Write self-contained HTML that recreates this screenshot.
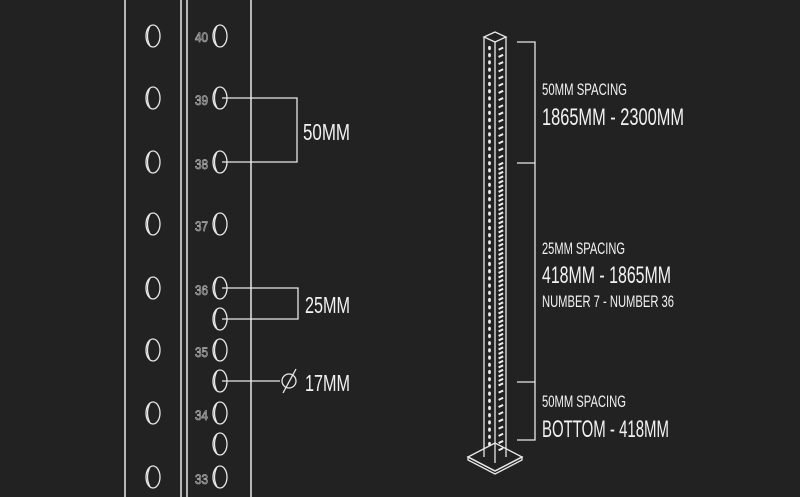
<!DOCTYPE html>
<html><head><meta charset="utf-8"><style>
html,body{margin:0;padding:0;background:#222222;}
svg{display:block}
text{font-family:"Liberation Sans Narrow","Liberation Sans",sans-serif;fill:#f2f2f2}
</style></head><body>
<svg id="s" width="800" height="497" viewBox="0 0 800 497" xmlns="http://www.w3.org/2000/svg">
<rect width="800" height="497" fill="#222222"/>
<g stroke="#e8e8e8" stroke-width="1.5" fill="none">
<line x1="125" y1="0" x2="125" y2="497"/>
<line x1="181" y1="0" x2="181" y2="497"/>
<line x1="187" y1="0" x2="187" y2="497"/>
<line x1="251" y1="0" x2="251" y2="497"/>
</g>
<g id="holes" stroke="#e8e8e8" stroke-width="1.3" fill="none"></g>
<g font-size="14">
<text x="195" y="42" textLength="13" lengthAdjust="spacingAndGlyphs" style="fill:#222;stroke:#aaa;stroke-width:0.8">40</text>
<text x="195" y="105" textLength="13" lengthAdjust="spacingAndGlyphs" style="fill:#222;stroke:#aaa;stroke-width:0.8">39</text>
<text x="195" y="169" textLength="13" lengthAdjust="spacingAndGlyphs" style="fill:#222;stroke:#aaa;stroke-width:0.8">38</text>
<text x="195" y="231" textLength="13" lengthAdjust="spacingAndGlyphs" style="fill:#222;stroke:#aaa;stroke-width:0.8">37</text>
<text x="195" y="295" textLength="13" lengthAdjust="spacingAndGlyphs" style="fill:#222;stroke:#aaa;stroke-width:0.8">36</text>
<text x="195" y="357" textLength="13" lengthAdjust="spacingAndGlyphs" style="fill:#222;stroke:#aaa;stroke-width:0.8">35</text>
<text x="195" y="420" textLength="13" lengthAdjust="spacingAndGlyphs" style="fill:#222;stroke:#aaa;stroke-width:0.8">34</text>
<text x="195" y="484" textLength="13" lengthAdjust="spacingAndGlyphs" style="fill:#222;stroke:#aaa;stroke-width:0.8">33</text>
</g>
<g stroke="#e8e8e8" stroke-width="1.3" fill="none">
<polyline points="222,98 297,98 297,162 222,162"/>
<polyline points="222,288 298,288 298,319 222,319"/>
<line x1="222" y1="381" x2="280" y2="381"/>
<circle cx="289" cy="381" r="7"/>
<line x1="283" y1="393" x2="296" y2="369"/>
</g>
<text x="303" y="140" font-size="23" textLength="47" lengthAdjust="spacingAndGlyphs">50MM</text>
<text x="305" y="313" font-size="23" textLength="45" lengthAdjust="spacingAndGlyphs">25MM</text>
<text x="305" y="391" font-size="23" textLength="45" lengthAdjust="spacingAndGlyphs">17MM</text>

<g stroke="#e8e8e8" stroke-width="1.3" fill="none">
<polygon points="484,37 495,32 506,37 495,42"/>
<line x1="484" y1="37" x2="484" y2="457"/>
<line x1="495" y1="42" x2="495" y2="463"/>
<line x1="506" y1="37" x2="506" y2="457"/>
<polygon points="468,457 495,443 522,457 495,471"/>
<polygon points="468,457 468,460 495,474 522,460 522,457 495,471"/>
</g>
<g id="post" fill="#eee"></g>
<g stroke="#e8e8e8" stroke-width="1.3" fill="none">
<polyline points="517,42 535,42 535,440 517,440"/>
<line x1="517" y1="163" x2="535" y2="163"/>
<line x1="517" y1="382" x2="535" y2="382"/>
</g>
<text x="542" y="95" font-size="17" textLength="85" lengthAdjust="spacingAndGlyphs">50MM SPACING</text>
<text x="542" y="125" font-size="24" textLength="142" lengthAdjust="spacingAndGlyphs">1865MM - 2300MM</text>
<text x="542" y="254" font-size="17" textLength="83" lengthAdjust="spacingAndGlyphs">25MM SPACING</text>
<text x="542" y="283" font-size="24" textLength="129" lengthAdjust="spacingAndGlyphs">418MM - 1865MM</text>
<text x="542" y="307" font-size="17" textLength="132" lengthAdjust="spacingAndGlyphs">NUMBER 7 - NUMBER 36</text>
<text x="542" y="407" font-size="17" textLength="84" lengthAdjust="spacingAndGlyphs">50MM SPACING</text>
<text x="542" y="437" font-size="24" textLength="127" lengthAdjust="spacingAndGlyphs">BOTTOM - 418MM</text>
</svg>
<script>
var NS="http://www.w3.org/2000/svg",h=document.getElementById('holes'),p=document.getElementById('post');
function el(g,t,a){var e=document.createElementNS(NS,t);for(var k in a)e.setAttribute(k,a[k]);g.appendChild(e);}
function hole(x,y){el(h,'ellipse',{cx:x,cy:y,rx:7,ry:11});el(h,'path',{d:'M'+(x-3)+' '+(y-10)+' Q'+(x-8)+' '+y+' '+(x-3)+' '+(y+10)});}
[36,98,162,224,288,350,413,477].forEach(function(y){hole(153,y);});
[36,98,162,224,288,319,350,381,413,444,477].forEach(function(y){hole(220,y);});
for(var y=48;y<450;y+=7.2){el(p,'ellipse',{cx:489.5,cy:y,rx:1.4,ry:2.1});}
for(var y=48;y<450;y+=(y>160&&y<382?4.5:7.2)){el(p,'rect',{x:498,y:y,width:5,height:2,transform:'rotate(-25 500 '+y+')'});}
</script>
</body></html>
